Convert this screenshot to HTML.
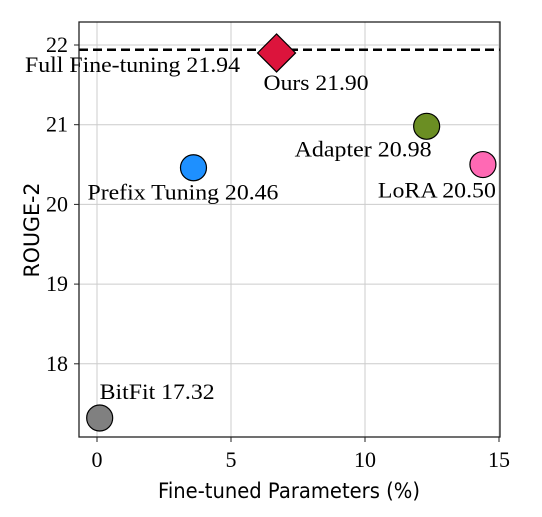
<!DOCTYPE html>
<html><head><meta charset="utf-8"><style>
body{margin:0;background:#fff}
svg text{font-family:"Liberation Serif",serif;fill:#000}
.sans{font-family:"DejaVu Sans","Liberation Sans",sans-serif}
</style></head><body>
<svg id="chart" width="542" height="512" xmlns="http://www.w3.org/2000/svg">
<g id="grid"></g>
<g id="marks"></g>
<rect x="79" y="22" width="421" height="415" fill="none" stroke="#222" stroke-width="1.3"/>
<g id="ticks"></g>
<text class="sans" x="289" y="498" font-size="21" text-anchor="middle" textLength="262" lengthAdjust="spacingAndGlyphs">Fine-tuned Parameters (%)</text>
<text class="sans" transform="translate(39,230) rotate(-90)" font-size="21" text-anchor="middle" textLength="95" lengthAdjust="spacingAndGlyphs">ROUGE-2</text>
</svg>
<script>
const methods=["Ours","Adapter","LoRA","Prefix Tuning","BitFit"];
const params=[6.7,12.3,14.4,3.6,0.1];
const rouge=[21.90,20.98,20.50,20.46,17.32];
const colors=["#dc143c","#6b8e23","#ff69b4","#1e90ff","#808080"];
const labelDx=[-13,-132,-105,-106,0];
const labelDy=[37,30,33,32,-19];
const labelW=[105,137,118,191,115];
const fullFT=21.94;
const xTicks=[0,5,10,15];
const yTicks=[18,19,20,21,22];
const X=v=>97+(v-0)*26.8;
const Y=v=>45+(22-v)*79.7;
const NS="http://www.w3.org/2000/svg";
function mk(p,t,a){const e=document.createElementNS(NS,t);for(const k in a)e.setAttribute(k,a[k]);p.appendChild(e);return e;}
const grid=document.getElementById('grid'),ticks=document.getElementById('ticks'),marks=document.getElementById('marks');
xTicks.forEach(v=>{
 const l=mk(grid,'line',{x1:X(v),x2:X(v),y1:22,y2:437,stroke:'#ccc','stroke-width':1});
 
 
 const tk=mk(ticks,'line',{x1:X(v),x2:X(v),y1:437,y2:442,stroke:'#222'});
 
 
 const t=mk(ticks,'text',{x:X(v),y:467,'font-size':22,'text-anchor':'middle'});t.textContent=v;
 
 
});
yTicks.forEach(v=>{
 const l=mk(grid,'line',{x1:79,x2:500,y1:Y(v),y2:Y(v),stroke:'#ccc','stroke-width':1});
 
 
 const tk=mk(ticks,'line',{x1:74,x2:79,y1:Y(v),y2:Y(v),stroke:'#222'});
 
 
 const t=mk(ticks,'text',{x:68,y:Y(v)+7,'font-size':22,'text-anchor':'end'});t.textContent=v;
 
 
});
const ref=mk(marks,'line',{x1:79,x2:500,y1:Y(fullFT),y2:Y(fullFT),stroke:'#000','stroke-width':2.5,'stroke-dasharray':'9,5'});


const rl=mk(marks,'text',{x:25,y:Y(fullFT)+22,'font-size':22,textLength:215,lengthAdjust:'spacingAndGlyphs'});rl.textContent='Full Fine-tuning '+fullFT.toFixed(2);


methods.forEach((m,i)=>{
 const cx=X(params[i]),cy=Y(rouge[i]);let e;
 if(i===0){e=mk(marks,'polygon',{points:`${cx},${cy-19} ${cx+19},${cy} ${cx},${cy+19} ${cx-19},${cy}`,fill:colors[i],stroke:'#000','stroke-width':1.2});}
 else{e=mk(marks,'circle',{cx:cx,cy:cy,r:13,fill:colors[i],stroke:'#000','stroke-width':1.2});}
 
 
 const t=mk(marks,'text',{x:cx+labelDx[i],y:cy+labelDy[i],'font-size':22,textLength:labelW[i],lengthAdjust:'spacingAndGlyphs'});t.textContent=m+' '+rouge[i].toFixed(2);
 
 
});
</script>
</body></html>
